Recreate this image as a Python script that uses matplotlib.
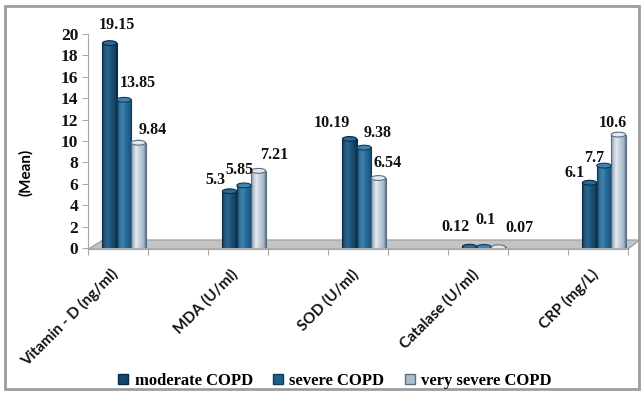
import numpy as np
import matplotlib
matplotlib.use("Agg")
import matplotlib.pyplot as plt
from matplotlib.patches import Rectangle, Ellipse, Polygon, Patch
from matplotlib.colors import to_rgb

categories = ["Vitamin - D (ng/ml)", "MDA (U/ml)", "SOD (U/ml)", "Catalase (U/ml)", "CRP (mg/L)"]
series_names = ["moderate COPD", "severe COPD", "very severe COPD"]
moderate = [19.15, 5.3, 10.19, 0.12, 6.1]
severe = [13.85, 5.85, 9.38, 0.1, 7.7]
very_severe = [9.84, 7.21, 6.54, 0.07, 10.6]
label_text = [["19.15", "13.85", "9.84"], ["5.3", "5.85", "7.21"], ["10.19", "9.38", "6.54"],
              ["0.12", "0.1", "0.07"], ["6.1", "7.7", "10.6"]]
y_ticks = list(range(0, 21, 2))

# styling: (edge, body, highlight) per series
styles = [("#0b2a42", "#16476b", "#2b6892"),
          ("#103a58", "#1f5f8c", "#3f84b2"),
          ("#5b6f84", "#aebdcc", "#e2e9f0")]
# pixel nudges for the data labels (dx, dy) per category / series
label_nudge = [[(7, 18), (14, 17), (14, 13)],
               [(-14, 11), (-5, 15), (16, 16)],
               [(-18, 16), (14, 15), (9, 15)],
               [(-14, 20), (2, 27), (21, 19)],
               [(-15, 10), (-10, 8), (-6, 12)]]

W, H = 644, 394
fig = plt.figure(figsize=(W / 100, H / 100), dpi=100)
ax = fig.add_axes([88 / W, (H - 248) / H, 540 / W, 214 / H])

bw = 0.12
x = np.arange(len(categories))
all_vals = [moderate, severe, very_severe]


def shade(edge, body, hl, n=40):
    e, b, h = (np.array(to_rgb(c)) for c in (edge, body, hl))
    t = np.linspace(0, 1, n)
    cols = []
    for v in t:
        if v < 0.35:
            f = v / 0.35
            c = e + (h - e) * np.sqrt(f)
        else:
            f = (v - 0.35) / 0.65
            c = h + (b - h) * min(f * 1.5, 1) if f < 0.67 else b + (e - b) * ((f - 0.67) / 0.33) ** 2
        cols.append(c)
    return np.array(cols)[None, :, :]


for j, vals in enumerate(all_vals):
    edge, body, hl = styles[j]
    grad = shade(edge, body, hl)
    for i, v in enumerate(vals):
        x0 = x[i] + (j - 1) * bw - bw / 2
        ax.imshow(grad, extent=(x0, x0 + bw, 0, v), aspect="auto", zorder=3, interpolation="bilinear")
        ax.add_patch(Rectangle((x0, 0), bw, v, fill=False, edgecolor=edge, lw=0.8, zorder=4))
        ax.add_patch(Ellipse((x0 + bw / 2, v), bw, 0.45, facecolor=hl, edgecolor=edge, lw=0.8, zorder=5))
        dx, dy = label_nudge[i][j]
        ax.annotate(label_text[i][j], (x0 + bw / 2, v), xytext=(dx, dy), textcoords="offset pixels",
                    ha="center", va="center", fontsize=11.5, fontweight="bold",
                    family="Liberation Serif", color="#111111", zorder=6)

# floor
ax.add_patch(Polygon([(-0.3, -0.1), (4.2, -0.1), (4.3, 0.75), (-0.175, 0.75)], closed=True,
                     facecolor="#c4c4c4", edgecolor="#999999", lw=0.8, zorder=1, clip_on=False))

ax.set_xlim(-0.3, 4.2)
ax.set_ylim(0, 20)
ax.set_yticks(y_ticks)
ax.set_yticklabels([str(t) for t in y_ticks], family="Liberation Serif", fontweight="bold", fontsize=12.5)
ax.set_xticks(np.arange(-0.3, 4.21, 0.5))
ax.set_xticklabels([])
for s in ["top", "right"]:
    ax.spines[s].set_visible(False)
ax.spines["left"].set_color("#a8a8a8")
ax.spines["bottom"].set_color("#a8a8a8")
ax.spines["bottom"].set_position(("data", -0.1))
ax.tick_params(axis="both", colors="#a8a8a8", length=4, width=0.8, labelcolor="#111111")
ax.tick_params(axis="y", pad=3)

for i, name in enumerate(categories):
    ax.annotate(name, (x[i], 0), xytext=(-8, -24), textcoords="offset pixels", rotation=45,
                rotation_mode="anchor", ha="right", va="center", fontsize=11,
                fontweight="bold", family="Lato", color="#111111", annotation_clip=False)

ax.set_ylabel("(Mean)", family="Lato", fontweight="bold", fontsize=11)
ax.yaxis.set_label_coords(-0.102, 0.355)

handles = [Patch(facecolor=styles[j][1], edgecolor=styles[j][0], lw=1) for j in range(3)]
fig.legend(handles, series_names, loc="center", bbox_to_anchor=(0.52, (H - 381) / H), ncol=3,
           frameon=False, handlelength=0.6, handleheight=0.6, handletextpad=0.4, columnspacing=1.2,
           prop={"family": "Liberation Serif", "weight": "bold", "size": 12})

fig.add_artist(Rectangle((5 / W, 5 / H), 634 / W, 383 / H, transform=fig.transFigure,
                         fill=False, edgecolor="#9e9e9e", lw=2))

fig.savefig("out.png", dpi=100)
